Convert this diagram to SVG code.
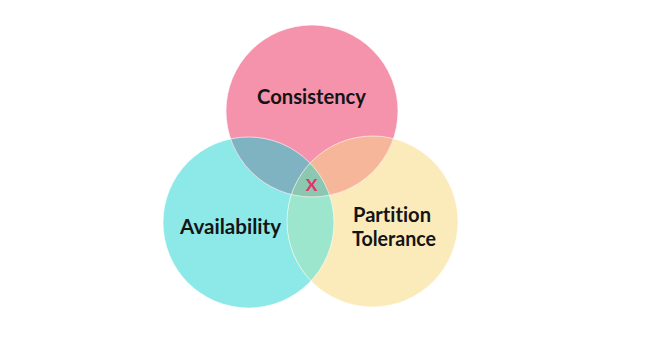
<svg xmlns="http://www.w3.org/2000/svg" width="659" height="353" viewBox="0 0 659 353">
  <defs>
    <clipPath id="clipC"><circle cx="312" cy="111" r="86"/></clipPath>
    <clipPath id="clipA"><circle cx="248.5" cy="222.5" r="85.5"/></clipPath>
    <clipPath id="clipP"><circle cx="372.5" cy="221.5" r="85.5"/></clipPath>
  </defs>
  <style>
    .label { font-family: "Lato", "Liberation Sans", sans-serif; font-weight: 700; font-size: 21px; fill: #141414; text-anchor: middle; font-variant-ligatures: none; }
    .mark { font-family: "Lato", "Liberation Sans", sans-serif; font-weight: 700; font-size: 17.5px; fill: #E3336C; text-anchor: middle; }
    .edge { fill: none; stroke: #ffffff; stroke-opacity: 0.6; stroke-width: 1; }
  </style>
  <rect width="659" height="353" fill="#ffffff"/>

  <!-- base circles -->
  <g id="availability">
    <circle cx="248.5" cy="222.5" r="85.5" fill="#8DE8E8"/>
  </g>
  <g id="partition">
    <circle cx="372.5" cy="221.5" r="85.5" fill="#FBEBBB"/>
  </g>
  <g id="consistency">
    <circle cx="312" cy="111" r="86" fill="#F592AC"/>
  </g>

  <!-- overlap regions -->
  <g id="overlaps">
    <g clip-path="url(#clipA)"><circle cx="372.5" cy="221.5" r="85.5" fill="#9CE6CE"/></g>
    <g clip-path="url(#clipC)"><circle cx="248.5" cy="222.5" r="85.5" fill="#80B3C2"/></g>
    <g clip-path="url(#clipC)"><circle cx="372.5" cy="221.5" r="85.5" fill="#F6B699"/></g>
    <g clip-path="url(#clipC)"><g clip-path="url(#clipA)"><circle cx="372.5" cy="221.5" r="85.5" fill="#8CC7B1"/></g></g>
  </g>

  <!-- soft white outlines -->
  <g id="outlines">
    <circle class="edge" cx="248.5" cy="222.5" r="85.5"/>
    <circle class="edge" cx="372.5" cy="221.5" r="85.5"/>
    <circle class="edge" cx="312" cy="111" r="86"/>
  </g>

  <g id="labels">
    <text class="label" x="311.5" y="104" textLength="109" lengthAdjust="spacingAndGlyphs">Consistency</text>
    <text class="label" x="230.5" y="234" textLength="101" lengthAdjust="spacingAndGlyphs">Availability</text>
    <text class="label" x="392" y="222" textLength="78" lengthAdjust="spacingAndGlyphs">Partition</text>
    <text class="label" x="394" y="246" textLength="84" lengthAdjust="spacingAndGlyphs">Tolerance</text>
    <text class="mark" x="311.5" y="190.5">X</text>
  </g>
</svg>
